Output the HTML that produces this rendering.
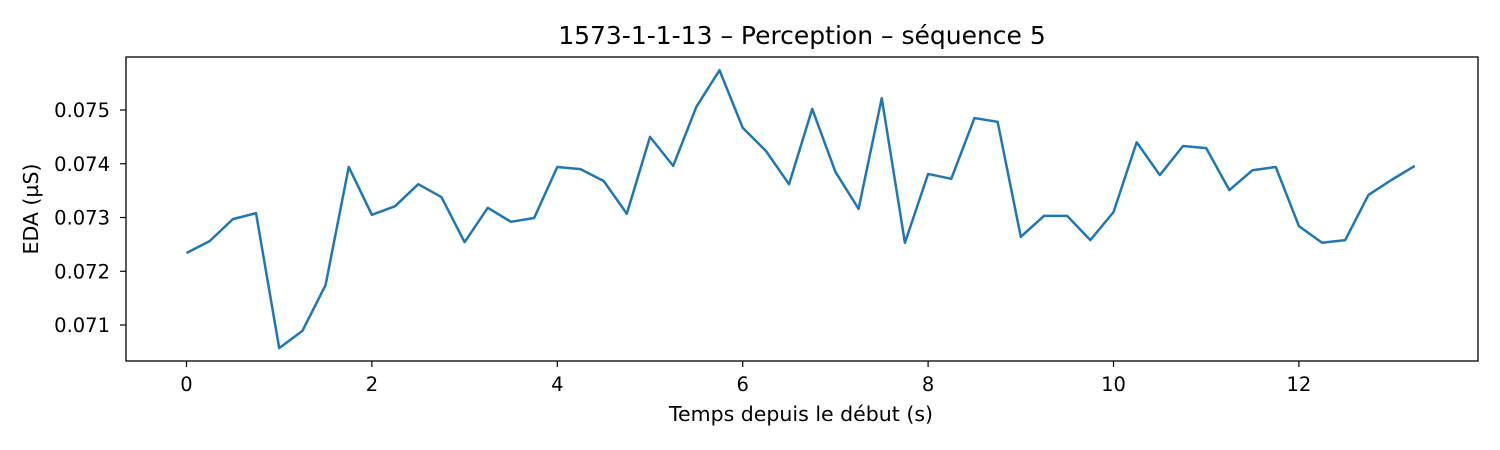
<!DOCTYPE html>
<html><head><meta charset="utf-8"><style>
body{margin:0;background:#fff;}
svg{display:block;font-family:"DejaVu Sans","Liberation Sans",sans-serif;}
</style></head><body>
<svg id="chart" width="1500" height="450">
<rect x="0" y="0" width="1500" height="450" fill="#fff"/>
<text x="802" y="44" font-size="25" text-anchor="middle">1573-1-1-13 – Perception – séquence 5</text>
<g id="ticks"></g>
<polyline id="line" fill="none" stroke="#1f77b4" stroke-width="2.5" stroke-linejoin="round"/>
<rect x="126" y="57" width="1352" height="304" fill="none" stroke="#000" stroke-width="1.3"/>
<text x="801" y="421" font-size="20.5" text-anchor="middle">Temps depuis le début (s)</text>
<text transform="translate(38,209) rotate(-90)" font-size="20.5" text-anchor="middle">EDA (µS)</text>
</svg>
<script>
const times = [0,0.25,0.5,0.75,1,1.25,1.5,1.75,2,2.25,2.5,2.75,3,3.25,3.5,3.75,4,4.25,4.5,4.75,5,5.25,5.5,5.75,6,6.25,6.5,6.75,7,7.25,7.5,7.75,8,8.25,8.5,8.75,9,9.25,9.5,9.75,10,10.25,10.5,10.75,11,11.25,11.5,11.75,12,12.25,12.5,12.75,13,13.25];
const edaValues = [0.07234,0.07256,0.07297,0.07308,0.07057,0.07089,0.07174,0.07394,0.07305,0.07321,0.07362,0.07338,0.07254,0.07318,0.07292,0.07299,0.07394,0.07390,0.07368,0.07307,0.07450,0.07396,0.07506,0.07574,0.07467,0.07424,0.07362,0.07502,0.07385,0.07316,0.07522,0.07253,0.07381,0.07372,0.07485,0.07478,0.07264,0.07303,0.07303,0.07258,0.07310,0.07440,0.07379,0.07433,0.07429,0.07351,0.07388,0.07394,0.07284,0.07253,0.07258,0.07342,0.07370,0.07396];
const xTicks = [0,2,4,6,8,10,12];
const yTicks = [0.071,0.072,0.073,0.074,0.075];
const xScale = t => 186.5 + t * 92.7;
const yScale = v => 110 + (0.075 - v) / 0.001 * 53.75;
const NS = 'http://www.w3.org/2000/svg';
const g = document.getElementById('ticks');
function mk(tag, attrs){const e=document.createElementNS(NS,tag);for(const k in attrs)e.setAttribute(k,attrs[k]);g.appendChild(e);return e;}
xTicks.forEach(t=>{
  const x=xScale(t);
  const l=mk('line',{x1:x,x2:x,y1:361,y2:367,stroke:'#000','stroke-width':1.2});
  
  
  const tx=mk('text',{x:x,y:391,'font-size':19.5,'text-anchor':'middle'});
  tx.textContent=String(t);
  
  
});
yTicks.forEach(v=>{
  const y=yScale(v);
  const l=mk('line',{x1:120,x2:126,y1:y,y2:y,stroke:'#000','stroke-width':1.2});
  
  
  const tx=mk('text',{x:110,y:y+7,'font-size':19.5,'text-anchor':'end'});
  tx.textContent=v.toFixed(3);
  
  
});
document.getElementById('line').setAttribute('points', times.map((t,i)=>xScale(t)+','+yScale(edaValues[i])).join(' '));
</script>
</body></html>
